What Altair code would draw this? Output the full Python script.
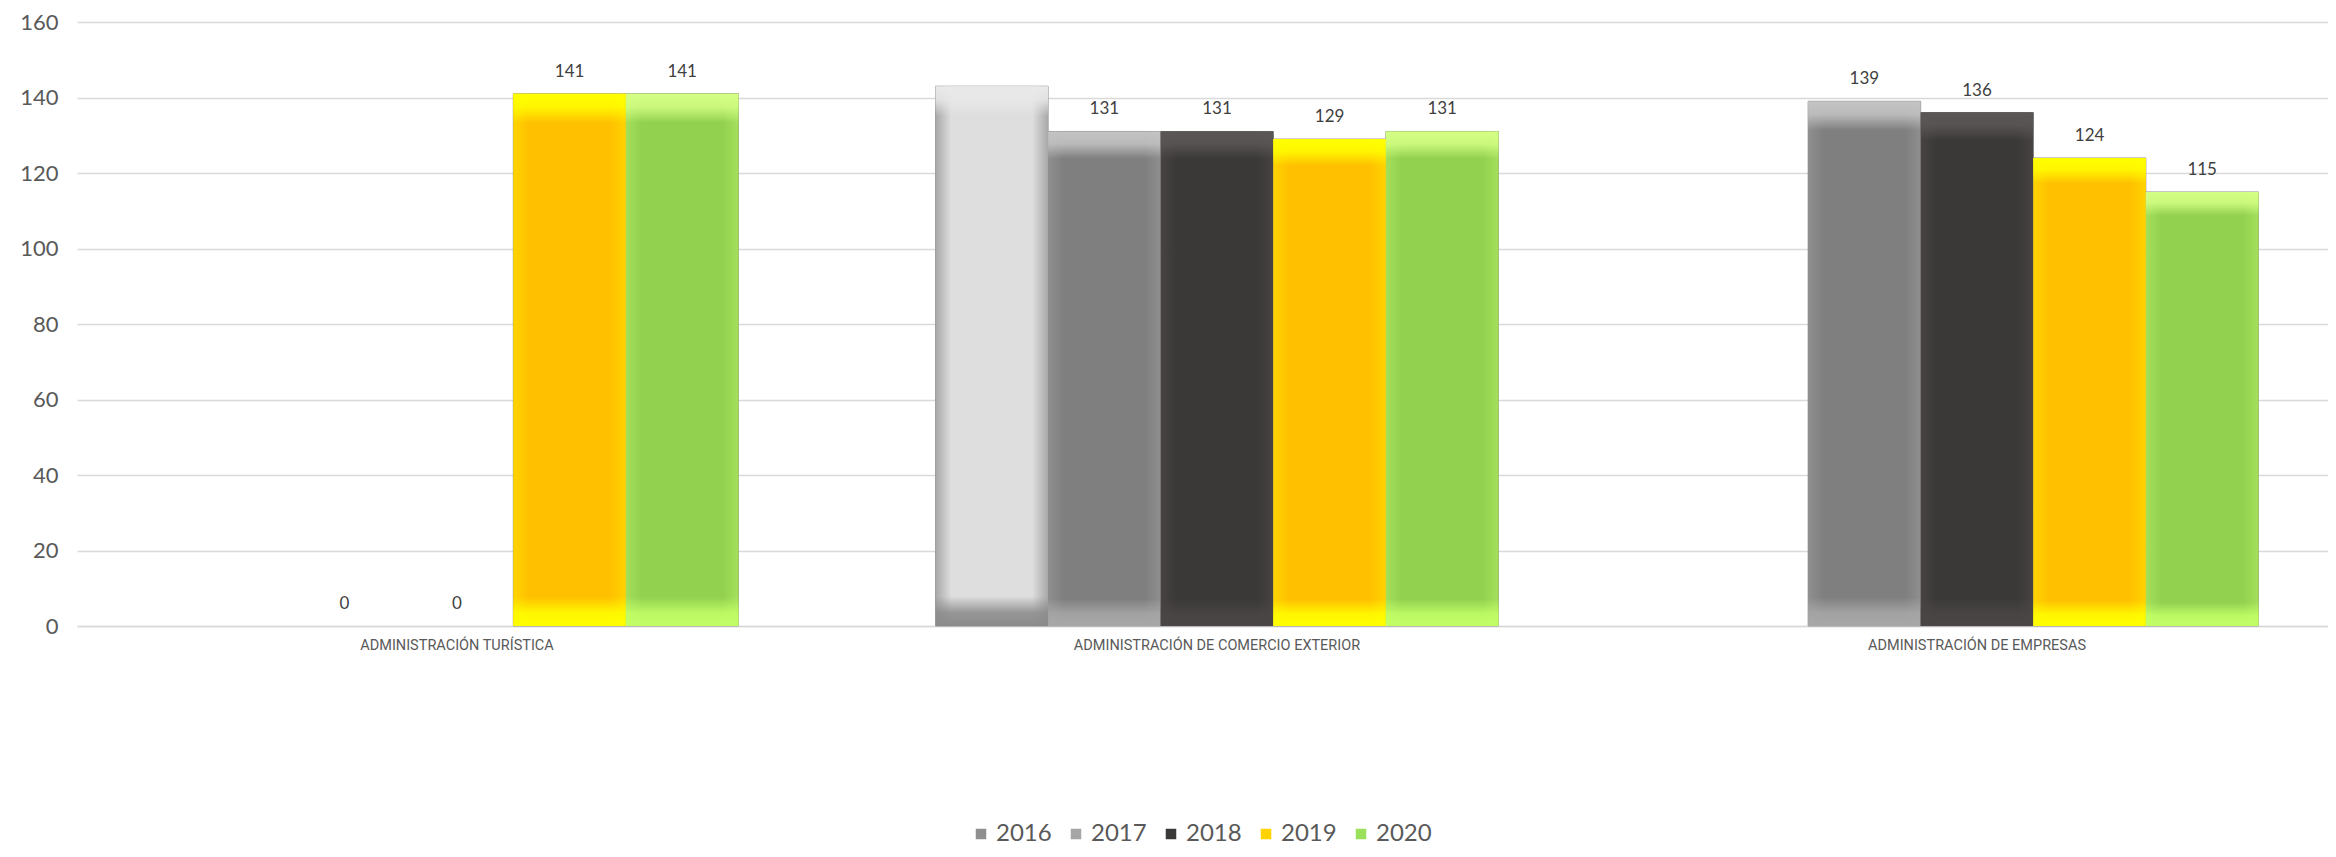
import altair as alt
import pandas as pd

categories = ["ADMINISTRACIÓN TURÍSTICA", "ADMINISTRACIÓN DE COMERCIO EXTERIOR", "ADMINISTRACIÓN DE EMPRESAS"]
years = ["2016", "2017", "2018", "2019", "2020"]
v2016 = [None, 143, None]
v2017 = [0, 131, 139]
v2018 = [0, 131, 136]
v2019 = [141, 129, 124]
v2020 = [141, 131, 115]
hidden_labels = [("ADMINISTRACIÓN DE COMERCIO EXTERIOR", "2016")]

series = {"2016": v2016, "2017": v2017, "2018": v2018, "2019": v2019, "2020": v2020}
rows = []
for y in years:
    for c, v in zip(categories, series[y]):
        if v is None:
            continue
        rows.append({"cat": c, "year": y, "value": v,
                     "label": "" if (c, y) in hidden_labels else str(v)})
df = pd.DataFrame(rows)

legend_colors = ["#8f8f8f", "#a6a6a6", "#3b3838", "#ffd200", "#9be05a"]
# main, side edge, top bevel, bottom bevel
styles = {
    "2016": ("#dedede", "#a8a8a8", "#e9e9e9", "#8a8a8a"),
    "2017": ("#7f7f7f", "#8f8f8f", "#c4c4c4", "#a8a8a8"),
    "2018": ("#3b3838", "#474343", "#5c5757", "#4a4646"),
    "2019": ("#ffc000", "#ffd400", "#ffff00", "#ffff00"),
    "2020": ("#92d050", "#a4e05a", "#d4ff84", "#c2ff66"),
}

def rgba(hexc, a):
    h = hexc.lstrip("#")
    r, g, b = int(h[0:2], 16), int(h[2:4], 16), int(h[4:6], 16)
    return f"rgba({r},{g},{b},{a})"

x_enc = alt.X("cat:N", sort=categories,
              scale=alt.Scale(range=[0, 2280], paddingInner=0, paddingOuter=0),
              axis=alt.Axis(title=None, labelAngle=0, labelFontSize=14.5, labelColor="#595959",
                            labelFont="Roboto", labelPadding=12, ticks=False,
                            domainColor="#d9d9d9", domainWidth=1.5, labelLimit=600))
xo_enc = alt.XOffset("year:N", sort=years,
                     scale=alt.Scale(domain=years, paddingInner=0, paddingOuter=0.875))
y_enc = alt.Y("value:Q", scale=alt.Scale(domain=[0, 160]),
              axis=alt.Axis(title=None, values=list(range(0, 161, 20)), labelFontSize=22,
                            labelFont="Lato", labelColor="#595959", labelPadding=19, ticks=False,
                            domain=False, gridColor="#d9d9d9", gridWidth=1.5))

base = alt.Chart(df)

bars = base.transform_filter(alt.datum.value > 0).mark_bar(stroke="#8a8a8a", strokeWidth=0.8).encode(
    x=x_enc, xOffset=xo_enc, y=y_enc,
    color=alt.Color("year:N", sort=years,
                    scale=alt.Scale(domain=years, range=legend_colors),
                    legend=alt.Legend(title=None, orient="none", direction="horizontal",
                                      legendX=892, legendY=800, symbolType="square",
                                      symbolSize=110, symbolStrokeWidth=0, labelFontSize=24,
                                      labelFont="Lato", labelColor="#595959", labelOffset=3,
                                      columnPadding=12, padding=0)),
)

layers = [bars]
for yr in years:
    main, edge, top, bot = styles[yr]
    side = alt.LinearGradient(gradient="linear", x1=0, x2=1, y1=0, y2=0, stops=[
        alt.GradientStop(color=edge, offset=0),
        alt.GradientStop(color=main, offset=0.14),
        alt.GradientStop(color=main, offset=0.86),
        alt.GradientStop(color=edge, offset=1),
    ])
    tb = alt.LinearGradient(gradient="linear", x1=0, x2=0, y1=0, y2=1, stops=[
        alt.GradientStop(color=rgba(top, 1), offset=0),
        alt.GradientStop(color=rgba(top, 0.85), offset=0.025),
        alt.GradientStop(color=rgba(top, 0), offset=0.055),
        alt.GradientStop(color=rgba(bot, 0), offset=0.945),
        alt.GradientStop(color=rgba(bot, 0.85), offset=0.975),
        alt.GradientStop(color=rgba(bot, 1), offset=1),
    ])
    sub = base.transform_filter((alt.datum.year == yr) & (alt.datum.value > 0))
    layers.append(sub.mark_bar(color=side).encode(x=x_enc, xOffset=xo_enc, y=y_enc))
    layers.append(sub.mark_bar(color=tb).encode(x=x_enc, xOffset=xo_enc, y=y_enc))

labels = base.mark_text(fontSize=17, font="Lato", color="#404040", baseline="alphabetic", dy=-17).encode(
    x=x_enc, xOffset=xo_enc, y=y_enc, text="label:N")
layers.append(labels)

chart = alt.layer(*layers).properties(
    width=2251, height=604,
    autosize=alt.AutoSizeParams(type="none"),
    padding={"left": 69, "top": 14, "right": 0, "bottom": 223},
    background="white",
).configure_view(stroke=None)

chart.save("out.html", embed_options={"renderer": "svg", "actions": False})
